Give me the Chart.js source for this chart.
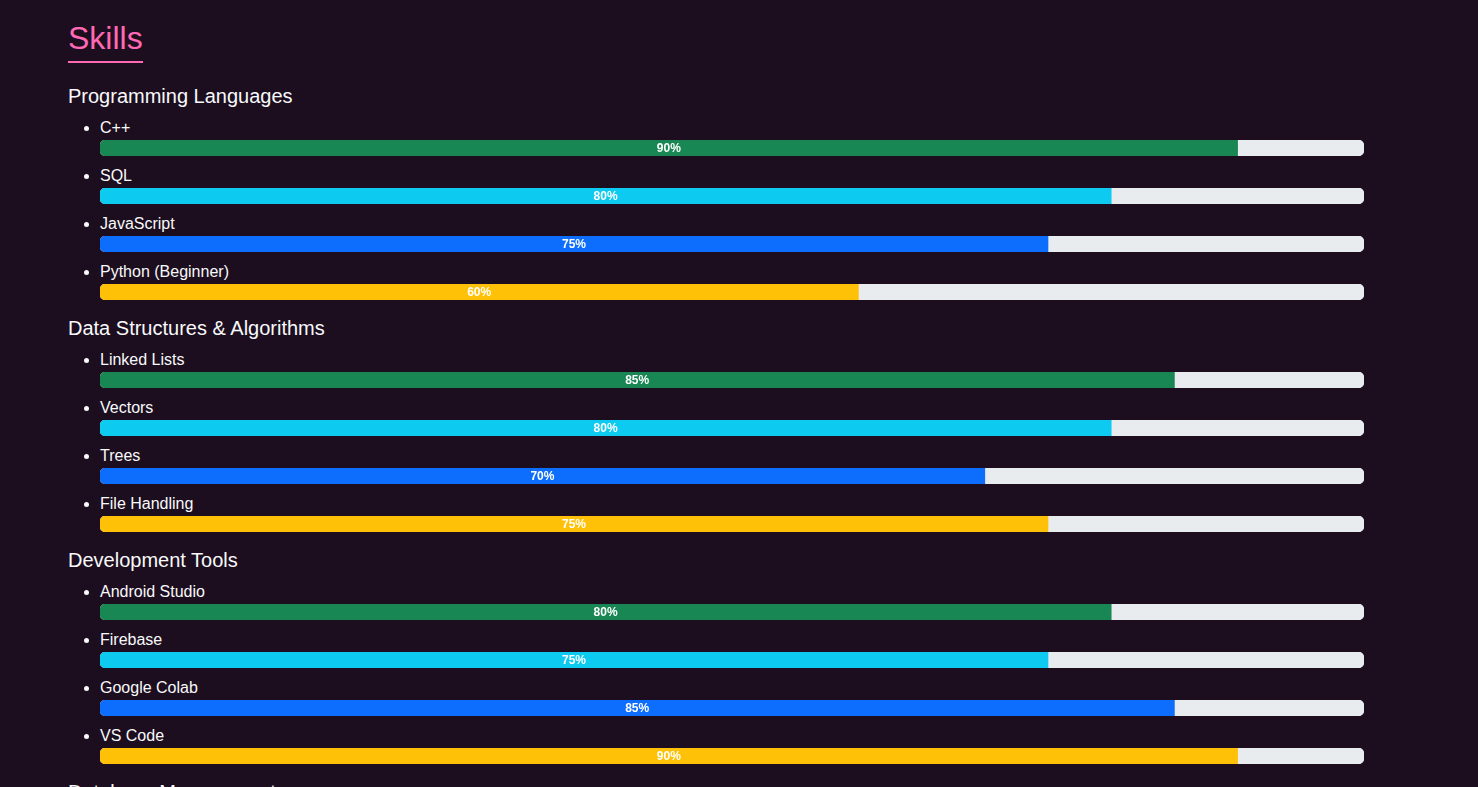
<!DOCTYPE html>
<html>
<head>
<meta charset="utf-8">
<script src="https://cdn.jsdelivr.net/npm/chart.js@4.4.1/dist/chart.umd.min.js"></script>
<style>
  html, body { margin: 0; padding: 0; background: #1c0e1f; }
  body { font-family: "Liberation Sans", Arial, Helvetica, sans-serif; color: #f8f9fa; width: 1478px; height: 787px; overflow: hidden; }
  .wrap { padding-left: 68px; }
  .title-box { height: 76px; }
  .title { display: inline-block; margin: 20px 0 0 0; font-size: 32px; line-height: 36px; font-weight: normal; color: #ff69b4; padding-bottom: 5px; border-bottom: 2px solid #ff69b4; }
  h3 { margin: 0; padding: 8px 0; font-size: 20px; line-height: 24px; font-weight: normal; color: #f8f9fa; }
  ul { margin: 0; padding-left: 32px; }
  li { margin: 0 0 8px 0; }
  .name { font-size: 16px; line-height: 23px; height: 24px; }
  .bar { position: relative; width: 1264px; height: 16px; }
  .bar canvas { display: block; }
  .pct { position: absolute; top: 0; left: 0; transform: translateX(-50%); font-size: 12px; line-height: 16px; font-weight: bold; color: #ffffff; white-space: nowrap; pointer-events: none; }
</style>
</head>
<body>
<div class="wrap" id="wrap">
  <div class="title-box"><h2 class="title">Skills</h2></div>
</div>
<script>
// ---- data ----
const sectionTitles = ["Programming Languages", "Data Structures & Algorithms", "Development Tools", "Database Management"];
const programmingSkills = ["C++", "SQL", "JavaScript", "Python (Beginner)"];
const programmingValues = [90, 80, 75, 60];
const dsaSkills = ["Linked Lists", "Vectors", "Trees", "File Handling"];
const dsaValues = [85, 80, 70, 75];
const toolSkills = ["Android Studio", "Firebase", "Google Colab", "VS Code"];
const toolValues = [80, 75, 85, 90];
const databaseSkills = [];
const databaseValues = [];
const barColors = ["#198754", "#0dcaf0", "#0d6efd", "#ffc107"];
const trackColor = "#e9ecef";
const maxValue = 100;

const sections = [
  [programmingSkills, programmingValues],
  [dsaSkills, dsaValues],
  [toolSkills, toolValues],
  [databaseSkills, databaseValues]
];

const labelPlugin = {
  id: "pctLabel",
  afterDraw(chart) {
    const span = chart.$pctSpan;
    if (!span) return;
    const v = chart.data.datasets[0].data[0];
    const meta = chart.getDatasetMeta(0);
    const x = chart.scales.x.getPixelForValue(v / 2);
    const y = meta.data[0] ? meta.data[0].y : 8;
    span.style.left = x + "px";
    span.style.top = (y - 8) + "px";
  }
};

const wrap = document.getElementById("wrap");
sections.forEach((sec, si) => {
  const h = document.createElement("h3");
  h.textContent = sectionTitles[si];
  wrap.appendChild(h);
  const names = sec[0], vals = sec[1];
  if (!names.length) return;
  const ul = document.createElement("ul");
  wrap.appendChild(ul);
  names.forEach((name, i) => {
    const li = document.createElement("li");
    const nm = document.createElement("div");
    nm.className = "name";
    nm.textContent = name;
    li.appendChild(nm);
    const bar = document.createElement("div");
    bar.className = "bar";
    const cv = document.createElement("canvas");
    cv.width = 1264; cv.height = 16;
    bar.appendChild(cv);
    const span = document.createElement("span");
    span.className = "pct";
    span.textContent = vals[i] + "%";
    bar.appendChild(span);
    li.appendChild(bar);
    ul.appendChild(li);
    const chart = new Chart(cv, {
      type: "bar",
      data: {
        labels: [name],
        datasets: [
          { data: [vals[i]], backgroundColor: barColors[i % barColors.length],
            borderRadius: { topLeft: 6, bottomLeft: 6, topRight: 0, bottomRight: 0 },
            borderSkipped: false, grouped: false, barPercentage: 1, categoryPercentage: 1 },
          { data: [maxValue], backgroundColor: trackColor,
            borderRadius: 6, borderSkipped: false, grouped: false, barPercentage: 1, categoryPercentage: 1 }
        ]
      },
      options: {
        indexAxis: "y",
        responsive: false,
        maintainAspectRatio: false,
        animation: false,
        events: [],
        layout: { padding: 0 },
        scales: {
          x: { display: false, min: 0, max: maxValue, stacked: false },
          y: { display: false }
        },
        plugins: { legend: { display: false }, tooltip: { enabled: false } }
      },
      plugins: [labelPlugin]
    });
    chart.$pctSpan = span;
    chart.draw();
  });
});
</script>
</body>
</html>
